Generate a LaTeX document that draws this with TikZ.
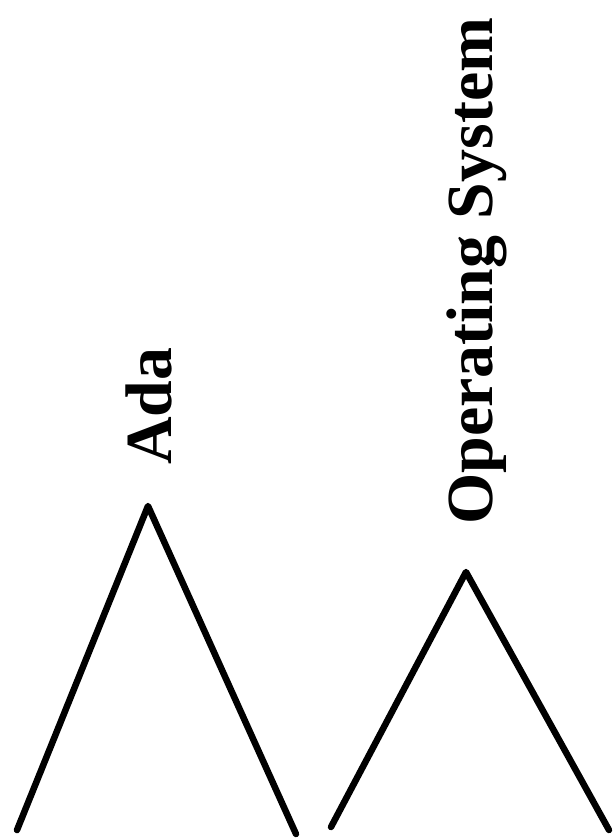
\documentclass[tikz,border=0pt]{standalone}
\usepackage{fontspec}
\setmainfont{Liberation Serif}
\usepackage{tikz}
\usetikzlibrary{positioning}

\tikzset{
  branch/.style={line width=3.7pt, line cap=round, line join=round},
  treename/.style={rotate=90, anchor=base west, inner sep=0pt,
    font=\fontsize{37.5}{45}\selectfont\bfseries}
}

\begin{document}
\begin{tikzpicture}[x=0.02cm, y=-0.02cm]
    \useasboundingbox (0,0) rectangle (613,840);

    % left tree
    \coordinate (adatop) at (148,506);
    \coordinate (adaleft) at (17,830);
    \coordinate (adaright) at (296,834);
    \draw[branch] (adaleft) -- (adatop) -- (adaright);
    \node[treename] (adaname) at (172,465) {Ada};

    % right tree
    \coordinate (ostop) at (466,572);
    \coordinate (osleft) at (331,827);
    \coordinate (osright) at (609,830);
    \draw[branch] (osleft) -- (ostop) -- (osright);
    \node[treename] (osname) at (492,525) {Operating System};
\end{tikzpicture}
\end{document}
